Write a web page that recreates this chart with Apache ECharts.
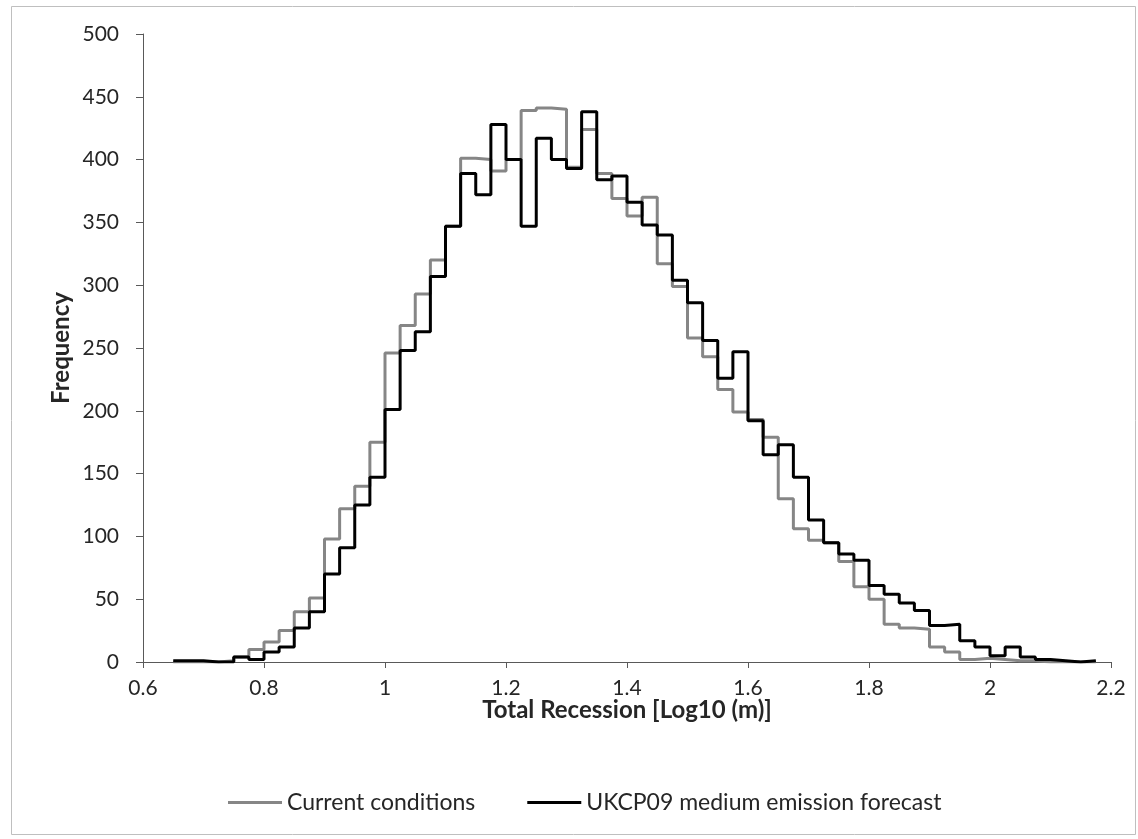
<!DOCTYPE html>
<html>
<head>
<meta charset="utf-8">
<title>Total Recession histogram</title>
<script src="https://cdn.jsdelivr.net/npm/echarts@6/dist/echarts.min.js"></script>
<style>
  html, body { margin: 0; padding: 0; background: #ffffff; }
  #chart { width: 1138px; height: 839px; }
</style>
</head>
<body>
<div id="chart"></div>
<script>
// Histogram bin edges of total recession, Log10 (m)
const binEdges = [
  0.650, 0.675, 0.700, 0.725, 0.750, 0.775, 0.800, 0.825, 0.850, 0.875,
  0.900, 0.925, 0.950, 0.975, 1.000, 1.025, 1.050, 1.075, 1.100, 1.125,
  1.150, 1.175, 1.200, 1.225, 1.250, 1.275, 1.300, 1.325, 1.350, 1.375,
  1.400, 1.425, 1.450, 1.475, 1.500, 1.525, 1.550, 1.575, 1.600, 1.625,
  1.650, 1.675, 1.700, 1.725, 1.750, 1.775, 1.800, 1.825, 1.850, 1.875,
  1.900, 1.925, 1.950, 1.975, 2.000, 2.025, 2.050, 2.075, 2.100, 2.125,
  2.150, 2.175
];

// Frequency per bin, current conditions
const currentConditions = [
  0, 0, 0, 1, 4, 10, 16, 25, 40, 51,
  98, 122, 140, 175, 246, 268, 293, 320, 347, 401,
  400, 391, 400, 439, 441, 440, 394, 424, 389, 369,
  355, 370, 317, 299, 258, 243, 217, 199, 193, 179,
  130, 106, 97, 95, 80, 60, 50, 30, 27, 26,
  12, 8, 2, 3, 2, 1, 1, 0, 0, 0,
  0
];

// Frequency per bin, UKCP09 medium emission forecast
const ukcp09Medium = [
  1, 1, 0, 0, 4, 2, 8, 12, 27, 40,
  70, 91, 125, 147, 201, 248, 263, 307, 347, 389,
  372, 428, 400, 347, 417, 400, 393, 438, 384, 387,
  366, 348, 340, 304, 286, 256, 226, 247, 192, 165,
  173, 147, 113, 95, 86, 81, 61, 54, 47, 41,
  29, 30, 17, 12, 5, 12, 4, 2, 1, 0,
  1
];

const xTicks = { min: 0.6, max: 2.2, interval: 0.2 };
const yTicks = { min: 0, max: 500, interval: 50 };

// Turn bin counts into step-line points: one point per left edge,
// plus a closing point at the last right edge.
function stepPoints(counts) {
  const pts = counts.map((c, i) => [binEdges[i], c]);
  pts.push([binEdges[counts.length], counts[counts.length - 1]]);
  return pts;
}

const FONT = 'Lato, "Liberation Sans", sans-serif';
const TEXT = '#262626';
const AXIS = '#595959';

const chart = echarts.init(document.getElementById('chart'), null, { renderer: 'canvas' });

chart.setOption({
  animation: false,
  backgroundColor: '#ffffff',
  textStyle: { fontFamily: FONT },
  graphic: [{
    type: 'rect',
    shape: { x: 11.5, y: 6.5, width: 1124, height: 828 },
    style: { fill: 'none', stroke: '#bfbfbf', lineWidth: 1 },
    silent: true
  }],
  grid: { left: 143, right: 27, top: 34, bottom: 177, containLabel: false },
  legend: {
    left: 228,
    top: 791,
    padding: 0,
    icon: 'rect',
    itemWidth: 54,
    itemHeight: 3,
    itemGap: 52,
    textStyle: { fontFamily: FONT, fontSize: 23, color: TEXT, padding: [0, 0, 0, 0] },
    data: ['Current conditions', 'UKCP09 medium emission forecast']
  },
  xAxis: {
    type: 'value',
    min: xTicks.min,
    max: xTicks.max,
    interval: xTicks.interval,
    name: 'Total Recession [Log10 (m)]',
    nameLocation: 'middle',
    nameGap: 36,
    nameMoveOverlap: false,
    nameTextStyle: { fontFamily: FONT, fontSize: 24, fontWeight: 'bold', color: TEXT },
    axisLine: { show: true, onZero: false, lineStyle: { color: AXIS, width: 1 } },
    axisTick: { show: true, inside: false, length: 6, lineStyle: { color: AXIS } },
    axisLabel: { fontFamily: FONT, fontSize: 21, color: TEXT, margin: 16 },
    splitLine: { show: false }
  },
  yAxis: {
    type: 'value',
    min: yTicks.min,
    max: yTicks.max,
    interval: yTicks.interval,
    name: 'Frequency',
    nameLocation: 'middle',
    nameGap: 70,
    nameMoveOverlap: false,
    nameTextStyle: { fontFamily: FONT, fontSize: 24, fontWeight: 'bold', color: TEXT },
    axisLine: { show: true, lineStyle: { color: AXIS, width: 1 } },
    axisTick: { show: true, inside: false, length: 7, lineStyle: { color: AXIS } },
    axisLabel: { fontFamily: FONT, fontSize: 21, color: TEXT, margin: 24 },
    splitLine: { show: false }
  },
  series: [
    {
      name: 'Current conditions',
      type: 'line',
      step: 'end',
      symbol: 'none',
      data: stepPoints(currentConditions),
      itemStyle: { color: '#868686' },
      lineStyle: { color: '#868686', width: 3 },
      z: 2
    },
    {
      name: 'UKCP09 medium emission forecast',
      type: 'line',
      step: 'end',
      symbol: 'none',
      data: stepPoints(ukcp09Medium),
      itemStyle: { color: '#000000' },
      lineStyle: { color: '#000000', width: 3 },
      z: 3
    }
  ]
});
</script>
</body>
</html>
